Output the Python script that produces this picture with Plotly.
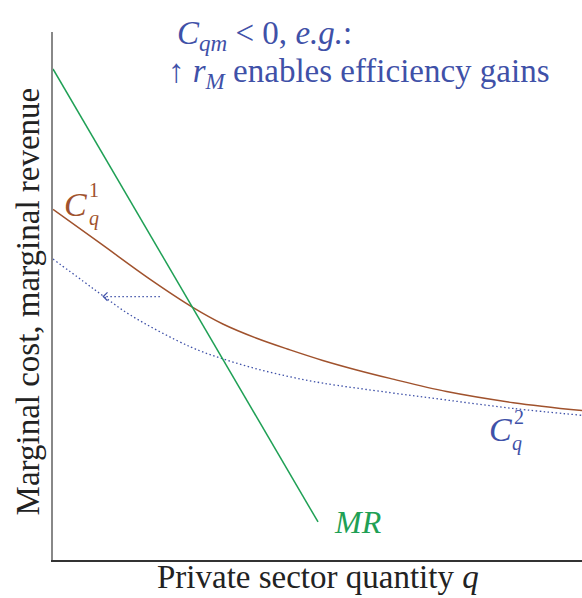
import plotly.graph_objects as go

# Marginal revenue (linear) and the two marginal cost schedules
mr_q = [0.0, 5.01]
mr_v = [9.30, 0.72]

c1_q = [0.0, 0.89, 1.83, 2.65, 3.21, 3.85, 4.48, 5.10, 5.74, 6.37, 7.44, 8.70, 10.0]
c1_v = [6.64, 6.00, 5.32, 4.78, 4.47, 4.20, 3.98, 3.78, 3.60, 3.44, 3.19, 2.98, 2.83]

c2_q = [0.0, 0.57, 0.95, 1.46, 2.59, 3.21, 3.85, 4.48, 5.10, 6.37, 7.44, 8.70, 10.0]
c2_v = [5.70, 5.28, 5.00, 4.64, 4.04, 3.81, 3.62, 3.47, 3.35, 3.17, 3.03, 2.87, 2.74]

# Shift arrow from C_q^1 towards C_q^2
shift_q = [2.02, 0.95]
shift_v = [4.99, 4.99]

BLUE = "#3f51a8"
BROWN = "#a0522d"
GREEN = "#1fa055"
SERIF = "Liberation Serif, DejaVu Serif, serif"
DOTS = "1.5px,2.5px"

fig = go.Figure()

fig.add_trace(go.Scatter(x=c2_q, y=c2_v, mode="lines",
                         line=dict(color=BLUE, width=1.3, dash=DOTS, shape="spline"),
                         hoverinfo="skip"))
fig.add_trace(go.Scatter(x=c1_q, y=c1_v, mode="lines",
                         line=dict(color=BROWN, width=1.5, shape="spline"),
                         hoverinfo="skip"))
fig.add_trace(go.Scatter(x=mr_q, y=mr_v, mode="lines",
                         line=dict(color=GREEN, width=1.5),
                         hoverinfo="skip"))
fig.add_trace(go.Scatter(x=shift_q, y=shift_v, mode="lines",
                         line=dict(color=BLUE, width=1.3, dash=DOTS),
                         hoverinfo="skip"))
# open arrowhead at the tip of the shift arrow
tip_q, tip_v = shift_q[-1], shift_v[-1]
fig.add_trace(go.Scatter(x=[tip_q + 0.08, tip_q, tip_q + 0.08],
                         y=[tip_v + 0.08, tip_v, tip_v - 0.08], mode="lines",
                         line=dict(color=BLUE, width=1.2), hoverinfo="skip"))

ann = []


def label(x, y, text, color, size, ref="data", **kw):
    xr, yr = ("x", "y") if ref == "data" else ("paper", "paper")
    d = dict(x=x, y=y, xref=xr, yref=yr, text=text, showarrow=False, borderpad=0,
             font=dict(family=SERIF, size=size, color=color))
    d.update(kw)
    ann.append(d)


# curve labels (symbol with stacked super/subscript)
label(0.43, 6.74, "<i>C</i>", BROWN, 34)
label(0.78, 7.01, "1", BROWN, 20)
label(0.77, 6.46, "<i>q</i>", BROWN, 20)
label(8.45, 2.48, "<i>C</i>", BLUE, 34)
label(8.80, 2.70, "2", BLUE, 20)
label(8.78, 2.20, "<i>q</i>", BLUE, 20)
label(5.77, 0.72, "<i>MR</i>", GREEN, 32)

# note at the top
label(0.232, 0.994, "<i>C</i><sub><i>qm</i></sub> &lt; 0, <i>e.g.</i>:", BLUE, 33,
      ref="paper", xanchor="left", yanchor="middle")
label(0.215, 0.922, "↑ <i>r</i><sub><i>M</i></sub> enables efficiency gains", BLUE, 33,
      ref="paper", xanchor="left", yanchor="middle")

# axis titles
label(0.5, -0.069, "Private sector quantity <i>q</i>", "#222222", 33, ref="paper",
      yanchor="bottom")
label(-0.047, 0.49, "Marginal cost, marginal revenue", "#222222", 33, ref="paper",
      textangle=-90, xanchor="center", yanchor="middle")

fig.update_layout(
    width=582, height=598,
    margin=dict(l=53, r=0, t=32, b=38),
    paper_bgcolor="white", plot_bgcolor="white",
    showlegend=False,
    annotations=ann,
    xaxis=dict(range=[0, 10], showgrid=False, zeroline=False, showticklabels=False,
               ticks="", showline=True, linecolor="#333333", linewidth=2),
    yaxis=dict(range=[0, 10], showgrid=False, zeroline=False, showticklabels=False,
               ticks="", showline=True, linecolor="#888888", linewidth=2),
)

fig.write_html("out.html")
